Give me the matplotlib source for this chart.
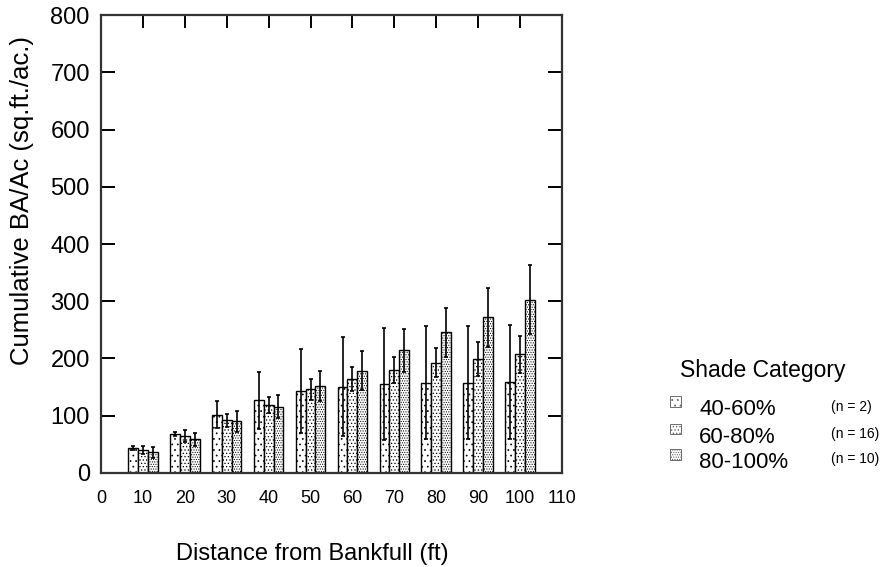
import numpy as np
import matplotlib
matplotlib.use('Agg')
import matplotlib.pyplot as plt
from matplotlib.patches import Rectangle

plt.rcParams['font.family'] = ['Liberation Sans', 'DejaVu Sans']
plt.rcParams['hatch.linewidth'] = 0.5

# distance classes (ft) and mean cumulative basal area per shade class
distance = [10, 20, 30, 40, 50, 60, 70, 80, 90, 100]
ba_40_60 = [44, 68, 102, 127, 143, 151, 156, 158, 158, 159]
ba_60_80 = [41, 65, 92, 118, 146, 164, 180, 193, 199, 207]
ba_80_100 = [36, 59, 90, 116, 152, 179, 214, 246, 272, 303]

# standard deviations
sd_40_60 = [3, 3, 24, 50, 74, 86, 98, 98, 98, 100]
sd_60_80 = [7, 10, 11, 14, 18, 21, 23, 25, 30, 32]
sd_80_100 = [9, 11, 19, 20, 27, 34, 37, 43, 52, 60]

categories = ['40-60%', '60-80%', '80-100%']
n_plots = ['(n = 2)', '(n = 16)', '(n = 10)']
hatches = ['...', '.....', '.......']

fig = plt.figure(figsize=(8.92, 5.67), dpi=100)
ax = fig.add_axes([0.1132, 0.1658, 0.5168, 0.8077])

x = np.array(distance, dtype=float)
width = 2.35
offsets = [-width, 0, width]
means = [ba_40_60, ba_60_80, ba_80_100]
sds = [sd_40_60, sd_60_80, sd_80_100]

for off, m, s, h in zip(offsets, means, sds, hatches):
    ax.bar(x + off, m, width=width, facecolor='white', edgecolor='black',
           linewidth=1.0, hatch=h, zorder=2)
    ax.errorbar(x + off, m, yerr=s, fmt='none', ecolor='black',
                elinewidth=1.2, capsize=1.2, capthick=1.2, zorder=3)

ax.set_xlim(0, 110)
ax.set_ylim(0, 800)
ax.set_xticks(np.arange(0, 111, 10))
ax.set_yticks(np.arange(0, 801, 100))

for sp in ax.spines.values():
    sp.set_linewidth(1.6)
    sp.set_color('#333333')

ax.tick_params(axis='y', which='both', direction='in', left=True, right=True,
               length=10, width=1.4, labelsize=17, pad=8)
ax.tick_params(axis='x', which='both', direction='in', top=True, bottom=False,
               labelbottom=True, length=9, width=1.4, labelsize=13, pad=12)

ax.set_ylabel('Cumulative BA/Ac (sq.ft./ac.)', fontsize=18.5)
ax.yaxis.set_label_coords(-0.171, 0.596)
ax.yaxis.label.set_va('center')
ax.set_xlabel('Distance from Bankfull (ft)', fontsize=17)
ax.xaxis.set_label_coords(0.458, -0.177)
ax.xaxis.label.set_va('center')

# legend block to the right of the plot
fig.text(0.762, 0.347, 'Shade Category', fontsize=16.5, ha='left', va='center')
rows_y = [0.277, 0.229, 0.184]
for label, n, h, yy in zip(categories, n_plots, hatches, rows_y):
    fig.add_artist(Rectangle((0.751, yy + 0.005), 0.012, 0.019,
                             transform=fig.transFigure, facecolor='white',
                             edgecolor='#555555', linewidth=0.6, hatch=h))
    fig.text(0.784, yy, label, fontsize=16, ha='left', va='center')
    fig.text(0.932, yy + 0.006, n, fontsize=10, ha='left', va='center')

fig.savefig('out.png', dpi=100)
